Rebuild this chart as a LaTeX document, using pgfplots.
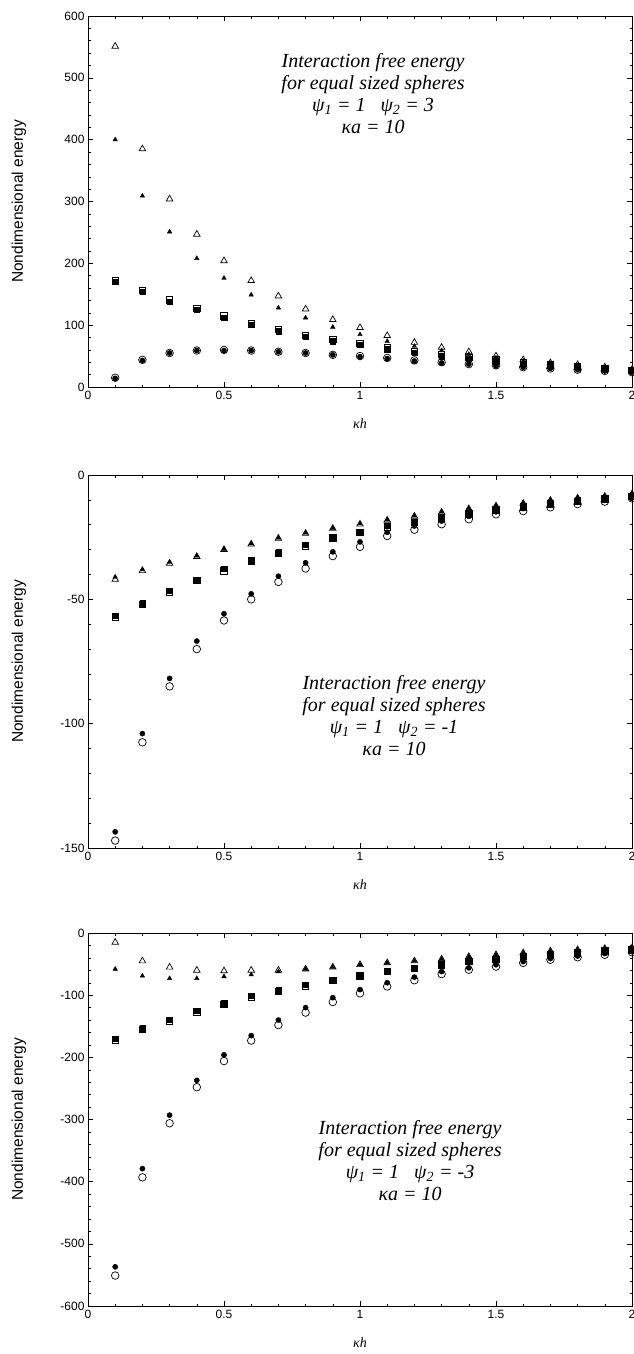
\documentclass[border=0pt]{standalone}
\usepackage{pgfplots}
\pgfplotsset{compat=1.18}
\usepackage{pgfplotstable}
\usepackage{fontspec}
\setmainfont{Liberation Sans}
\newfontfamily\serif{Liberation Serif}

\pgfplotstableread{
x otri ftri osq fsq ocir fcir
0.1 551 400 172 170 15 14
0.2 385 309 156 154 44 43
0.3 304 251 141 138 55 55
0.4 247 208 127 125 59 59
0.5 204 176 115 112 60 59
0.6 172 149 103 101 59 59
0.7 147 128 93 90 57 57
0.8 126 112 84 81 55 55
0.9 109 97 77 74 52 52
1.0 96 85 71 68 50 49
1.1 83 74 64 61 47 46
1.2 72 66 58 55 43 42
1.3 64 59 53 50 40 39
1.4 57 53 48 46 37 37
1.5 50 47 44 42 35 34
1.6 44 42 40 38 32 32
1.7 39 38 36 35 30 30
1.8 36 34 33 32 28 28
1.9 32 31 30 29 26 26
2.0 28 28 27 26 24 24
}\toptable

\pgfplotstableread{
x otri ftri osq fsq ocir fcir
0.1 -42 -41 -57 -56.5 -147 -143.5
0.2 -38.5 -38 -52 -51.5 -107.5 -104
0.3 -35.5 -35 -47 -46.5 -85 -81.8
0.4 -32.8 -32.5 -42.3 -42 -70 -66.8
0.5 -30 -29.8 -38.5 -37.6 -58.5 -55.8
0.6 -27.8 -27.6 -34.8 -34.2 -50 -47.8
0.7 -25.5 -25.3 -31.5 -31 -43 -40.7
0.8 -23.5 -23.3 -28.5 -28 -37.6 -35.3
0.9 -21.5 -21.4 -25.2 -25 -32.6 -30.9
1.0 -19.8 -19.6 -23 -22.7 -28.9 -26.9
1.1 -18.2 -18 -20.8 -20.5 -24.5 -23
1.2 -16.6 -16.4 -19 -18.7 -22 -20.5
1.3 -15 -14.8 -17.2 -16.9 -19.8 -18.5
1.4 -13.6 -13.4 -15.6 -15.3 -17.8 -16.6
1.5 -12.5 -12.3 -14 -13.8 -15.8 -14.8
1.6 -11.4 -11.2 -12.8 -12.5 -14.5 -13.5
1.7 -10.2 -10 -11.6 -11.3 -13 -12.2
1.8 -9.3 -9.1 -10.5 -10.2 -11.7 -11
1.9 -8.6 -8.5 -9.6 -9.3 -10.7 -10
2.0 -7.6 -7.4 -8.5 -8.3 -9.4 -8.9
}\midtable

\pgfplotstableread{
x otri ftri osq fsq ocir fcir
0.1 -15 -58 -172 -170 -551 -537
0.2 -45 -69 -155 -153 -393 -379
0.3 -55 -73 -141 -139 -306 -293
0.4 -60 -73 -127 -125 -248 -237
0.5 -61 -70 -115 -113 -206 -196
0.6 -60 -67 -103 -101 -173 -165
0.7 -60 -62 -94 -92 -148 -140
0.8 -58 -58 -85 -83 -128 -120
0.9 -55 -55 -76 -75 -111 -104
1.0 -51 -51 -69 -68 -97 -91
1.1 -48 -48 -62 -61 -86 -80
1.2 -45 -45 -57 -56 -76 -71
1.3 -42 -42 -51 -50 -66 -62
1.4 -38 -38 -46 -45 -59 -56
1.5 -35 -35 -42 -41 -54 -51
1.6 -32 -32 -38 -37 -48 -46
1.7 -29 -29 -35 -34 -43 -41
1.8 -27 -27 -32 -31 -39 -37
1.9 -25 -25 -29 -28 -35 -33
2.0 -24 -24 -27 -26 -31 -30
}\bottable

\tikzset{annot/.style={align=center, anchor=north, font=\serif\itshape\fontsize{20}{22}\selectfont}}

\pgfplotsset{
  panel/.style={
    scale only axis, width=544pt, height=371pt,
    xmin=0, xmax=2,
    xtick={0,0.5,1,1.5,2},
    minor x tick num=4, minor y tick num=4,
    tick align=inside,
    major tick length=5pt, minor tick length=2.5pt,
    axis line style={line width=0.8pt},
    tick style={black, line width=0.5pt},
    xtick pos=both, ytick pos=both,
    ticklabel style={font=\fontsize{12}{14}\selectfont},
    /pgf/number format/assume math mode=true,
    xticklabel style={yshift=-1pt},
    xlabel={{\serif\itshape κh}},
    xlabel style={at={(axis description cs:0.5,0)}, anchor=center, yshift=-37pt, font=\fontsize{14}{16}\selectfont},
    ylabel={Nondimensional energy},
    ylabel style={at={(axis description cs:-0.127,0.5)}, anchor=center, rotate=0, font=\fontsize{15.5}{18}\selectfont},
    clip=false,
  },
  otri/.style={only marks, mark=triangle, mark size=3.8pt, mark options={black, fill=white, line width=0.7pt}},
  ftri/.style={only marks, mark=triangle*, mark size=2.6pt, mark options={black, fill=black}},
  osq/.style={only marks, mark=square, mark size=3.2pt, mark options={black, fill=white, line width=0.7pt}},
  fsq/.style={only marks, mark=square*, mark size=2.7pt, mark options={black, fill=black}},
  ocir/.style={only marks, mark=o, mark size=3.8pt, mark options={black, fill=white, line width=0.7pt}},
  fcir/.style={only marks, mark=*, mark size=2.6pt, mark options={black, fill=black}},
}

\begin{document}
\begin{tikzpicture}
\path[use as bounding box] (0pt,0pt) rectangle (633pt,-1354pt);

% top panel
\begin{axis}[panel, at={(88pt,-387pt)}, anchor=south west,
  ymin=0, ymax=600, ytick={0,100,...,600}]
\addplot[otri] table[x=x,y=otri]{\toptable};
\addplot[ocir] table[x=x,y=ocir]{\toptable};
\addplot[osq] table[x=x,y=osq]{\toptable};
\addplot[ftri] table[x=x,y=ftri]{\toptable};
\addplot[fsq] table[x=x,y=fsq]{\toptable};
\addplot[fcir] table[x=x,y=fcir]{\toptable};
\node[annot] at (axis cs:1.048,545) {Interaction free energy\\for equal sized spheres\\ψ\textsubscript{1} = 1 \ \ ψ\textsubscript{2} = 3\\κa = 10};
\end{axis}

% middle panel
\begin{axis}[panel, at={(88pt,-848pt)}, anchor=south west, height=373pt,
  ymin=-150, ymax=0, ytick={-150,-100,-50,0}]
\addplot[otri] table[x=x,y=otri]{\midtable};
\addplot[ocir] table[x=x,y=ocir]{\midtable};
\addplot[osq] table[x=x,y=osq]{\midtable};
\addplot[ftri] table[x=x,y=ftri]{\midtable};
\addplot[fsq] table[x=x,y=fsq]{\midtable};
\addplot[fcir] table[x=x,y=fcir]{\midtable};
\node[annot] at (axis cs:1.125,-79) {Interaction free energy\\for equal sized spheres\\ψ\textsubscript{1} = 1 \ \ ψ\textsubscript{2} = -1\\κa = 10};
\end{axis}

% bottom panel
\begin{axis}[panel, at={(88pt,-1306pt)}, anchor=south west, height=373pt,
  ymin=-600, ymax=0, ytick={-600,-500,...,0}]
\addplot[otri] table[x=x,y=otri]{\bottable};
\addplot[ocir] table[x=x,y=ocir]{\bottable};
\addplot[osq] table[x=x,y=osq]{\bottable};
\addplot[ftri] table[x=x,y=ftri]{\bottable};
\addplot[fsq] table[x=x,y=fsq]{\bottable};
\addplot[fcir] table[x=x,y=fcir]{\bottable};
\node[annot] at (axis cs:1.184,-296) {Interaction free energy\\for equal sized spheres\\ψ\textsubscript{1} = 1 \ \ ψ\textsubscript{2} = -3\\κa = 10};
\end{axis}
\end{tikzpicture}
\end{document}
